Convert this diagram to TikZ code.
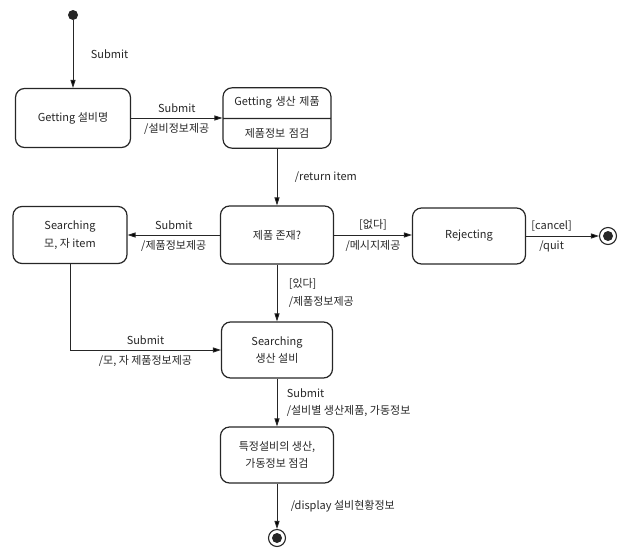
\documentclass[tikz,border=0pt]{standalone}
\usepackage{fontspec}
\setmainfont{Noto Sans CJK KR}
\usetikzlibrary{arrows.meta,shapes.multipart}

\begin{document}
\begin{tikzpicture}
[ x=1pt, y=-1pt, line width=0.9pt, draw=black!85, text=black!85
, font=\fontsize{11}{17.5}\selectfont
, state/.style={rectangle, rounded corners=9pt, draw, line width=1.2pt, align=center, inner sep=2pt}
, splitstate/.style={state, rectangle split, rectangle split parts=2, text width=104pt, align=center, text height=8pt, text depth=3pt, inner ysep=9.25pt}
, initial/.style={circle, fill=black!85, minimum size=10pt, inner sep=0pt}
, final/.style={circle, draw, line width=1.1pt, minimum size=17pt, inner sep=0pt, path picture={\fill[black!85] (path picture bounding box.center) circle (5pt);}}
, trans/.style={-{Triangle[length=8pt, width=5pt]}}
, lbl/.style={inner sep=4.5pt}
]
\useasboundingbox (0,0) rectangle (620,549);
% States, top row:
\node (start) [initial] at (73,15) {};
\node (getname) [state, minimum width=115pt, minimum height=59pt] at (73,118) {Getting 설비명};
\node (getprod) [splitstate] at (277,118) {Getting 생산 제품\nodepart{two}제품정보 점검};
% Middle row:
\node (srchitem) [state, minimum width=114pt, minimum height=57pt] at (70,235) {Searching\\모, 자 item};
\node (check) [state, minimum width=113pt, minimum height=58pt] at (277,235) {제품 존재?};
\node (reject) [state, minimum width=113pt, minimum height=56pt] at (469,236) {Rejecting};
\node (end1) [final] at (608,236) {};
% Lower column:
\node (srchprod) [state, minimum width=111pt, minimum height=56pt] at (277,350) {Searching\\생산 설비};
\node (inspect) [state, minimum width=113pt, minimum height=56pt] at (277,455) {특정설비의 생산,\\가동정보 점검};
\node (end2) [final] at (277,538) {};
% Transitions:
\draw [trans] (start) -- node [right, xshift=14pt] {Submit} (getname);
\draw [trans] (getname) -- node [lbl, above] {Submit} node [lbl, below] {/설비정보제공} (getprod);
\draw [trans] (getprod) -- node [right, xshift=14pt] {/return item} (check);
\draw [trans] (check) -- node [lbl, above] {Submit} node [lbl, below] {/제품정보제공} (srchitem);
\draw [trans] (check) -- node [lbl, above] {[없다]} node [lbl, below] {/메시지제공} (check -| reject.west);
\draw [trans] (reject) -- node [lbl, above, pos=0.35] {[cancel]} node [lbl, below, pos=0.35] {/quit} (end1);
\draw [trans] (check) -- node [right, align=left, xshift=8pt] {[있다]\\/제품정보제공} (srchprod);
\draw [trans] (srchitem) |- node [lbl, above, pos=0.75] {Submit} node [lbl, below, pos=0.75] {/모, 자 제품정보제공} (srchprod);
\draw [trans] (srchprod) -- node [right, align=left, xshift=6pt] {Submit\\/설비별 생산제품, 가동정보} (inspect);
\draw [trans] (inspect) -- node [right, xshift=10pt] {/display 설비현황정보} (end2);
\end{tikzpicture}
\end{document}
